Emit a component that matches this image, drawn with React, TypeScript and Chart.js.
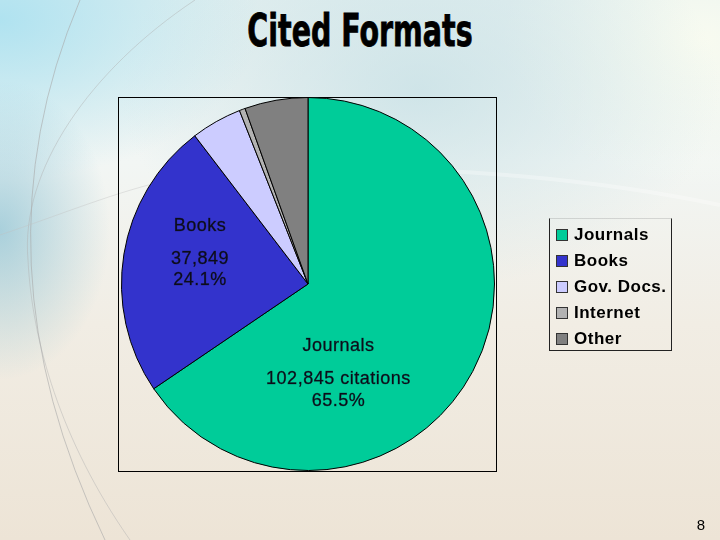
import React, { useEffect, useRef } from "react";
import { Chart, registerables } from "chart.js";

Chart.register(...registerables);

const categories = ["Journals", "Books", "Gov. Docs.", "Internet", "Other"];
const citations = [102845, 37849, 6900, 800, 8600];
const sliceColors = ["#00CC99", "#3333CC", "#CCCCFF", "#B2B2B2", "#808080"];
const pieLabels = [
  ["Journals", "", "102,845 citations", "65.5%"],
  ["Books", "", "37,849", "24.1%"],
];
const titleText = "Cited Formats";
const pageNumber = "8";

// label text offsets from each slice's tooltip anchor (text placement only)
const labelOffsets = [
  { dx: -52, dy: [18, 34, 51, 73] },
  { dx: -16, dy: [-43, -27, -10, 11] },
];

const framePlugin = {
  id: "frame",
  beforeDraw(chart: any) {
    const { ctx, chartArea } = chart;
    ctx.save();
    ctx.strokeStyle = "#000";
    ctx.lineWidth = 1;
    ctx.strokeRect(
      Math.round(chartArea.left - 3) + 0.5,
      Math.round(chartArea.top) + 0.5,
      Math.round(chartArea.right - chartArea.left + 4),
      Math.round(chartArea.bottom - chartArea.top)
    );
    ctx.restore();
  },
};

const sliceLabelPlugin = {
  id: "sliceLabels",
  afterDatasetsDraw(chart: any) {
    const { ctx } = chart;
    const meta = chart.getDatasetMeta(0);
    ctx.save();
    ctx.font = "18px 'Liberation Sans', Arial, sans-serif";
    (ctx as any).letterSpacing = "0.5px";
    ctx.fillStyle = "#0d0d1a";
    ctx.strokeStyle = "rgba(13,13,26,0.55)";
    ctx.lineWidth = 0.5;
    ctx.textAlign = "center";
    ctx.textBaseline = "middle";
    pieLabels.forEach((lines, i) => {
      const arc = meta.data[i];
      if (!arc) return;
      const p = arc.tooltipPosition(false);
      const off = labelOffsets[i];
      lines.forEach((t, j) => {
        if (!t) return;
        ctx.fillText(t, p.x + off.dx, p.y + off.dy[j]);
        ctx.strokeText(t, p.x + off.dx, p.y + off.dy[j]);
      });
    });
    ctx.restore();
  },
};

export default function App() {
  const ref = useRef<HTMLCanvasElement | null>(null);

  useEffect(() => {
    if (!ref.current) return;
    const chart = new Chart(ref.current, {
      type: "pie",
      data: {
        labels: categories,
        datasets: [
          {
            data: citations,
            backgroundColor: sliceColors,
            borderColor: "#000",
            borderWidth: 1,
          },
        ],
      },
      options: {
        responsive: false,
        animation: false,
        layout: { padding: { left: 121, top: 97, right: 225, bottom: 69 } },
        plugins: {
          legend: { display: false },
          tooltip: { enabled: false },
          title: { display: false },
        },
      },
      plugins: [framePlugin, sliceLabelPlugin],
    });
    return () => chart.destroy();
  }, []);

  return (
    <div
      style={{
        position: "fixed",
        left: 0,
        top: 0,
        width: 720,
        height: 540,
        overflow: "hidden",
        background:
          "radial-gradient(ellipse 110px 150px at 0px 230px, rgba(110,180,205,0.55), rgba(110,180,205,0) 100%)," +
          "radial-gradient(ellipse 260px 160px at 0px 20px, rgba(170,225,240,0.9), rgba(170,225,240,0) 100%)," +
          "radial-gradient(ellipse 300px 200px at 420px 90px, rgba(195,222,228,0.7), rgba(195,222,228,0) 100%)," +
          "radial-gradient(ellipse 200px 150px at 700px 40px, rgba(250,252,240,0.9), rgba(250,252,240,0) 100%)," +
          "linear-gradient(to bottom, #e4f0f0 0%, #f2f6f4 30%, #f1ede4 60%, #ede4d6 100%)",
        fontFamily: "'Liberation Sans', Arial, sans-serif",
      }}
    >
      <svg
        width={720}
        height={540}
        style={{ position: "absolute", left: 0, top: 0 }}
      >
        <path d="M 80 0 Q -30 260 105 540" stroke="#a8a8a8" strokeWidth={1} fill="none" opacity={0.6} />
        <path d="M 195 0 C 90 70 20 170 28 260 C 32 340 60 440 130 540" stroke="#b0b0b0" strokeWidth={1} fill="none" opacity={0.45} />
        <path d="M 0 235 C 60 215 120 190 170 180" stroke="#c0c0c0" strokeWidth={1} fill="none" opacity={0.4} />
        <path d="M 300 170 C 450 165 600 180 720 205" stroke="#ffffff" strokeWidth={4} fill="none" opacity={0.3} />
      </svg>
      <div
        style={{
          position: "absolute",
          left: 0,
          top: 6,
          width: 720,
          textAlign: "center",
          fontFamily: "'DejaVu Sans Condensed', 'Liberation Sans Narrow', sans-serif",
          fontWeight: 700,
          fontSize: 44,
          lineHeight: "50px",
          color: "#000",
          WebkitTextStroke: "0.8px #000",
          transform: "scaleX(0.72)",
          transformOrigin: "360px 0px",
        }}
      >
        {titleText}
      </div>
      <canvas
        ref={ref}
        width={720}
        height={540}
        style={{ position: "absolute", left: 0, top: 0 }}
      />
      <div
        style={{
          position: "absolute",
          left: 549,
          top: 218,
          width: 121,
          height: 131,
          borderLeft: "1px solid #222",
          borderRight: "1px solid #222",
          borderBottom: "1px solid #222",
          borderTop: "1px solid rgba(0,0,0,0.12)",
        }}
      >
        {categories.map((c, i) => (
          <div
            key={c}
            style={{
              position: "absolute",
              left: 0,
              top: 5 + i * 26,
              height: 22,
              display: "flex",
              alignItems: "center",
            }}
          >
            <div
              style={{
                marginLeft: 6,
                width: 10,
                height: 10,
                background: sliceColors[i],
                border: "1px solid #333",
              }}
            />
            <span
              style={{
                marginLeft: 6,
                fontWeight: 700,
                fontSize: 17,
                letterSpacing: "0.5px",
                color: "#000",
                whiteSpace: "nowrap",
              }}
            >
              {c}
            </span>
          </div>
        ))}
      </div>
      <div
        style={{
          position: "absolute",
          left: 694,
          top: 516,
          width: 14,
          textAlign: "center",
          fontSize: 15,
          lineHeight: "18px",
          color: "#000",
        }}
      >
        {pageNumber}
      </div>
    </div>
  );
}
